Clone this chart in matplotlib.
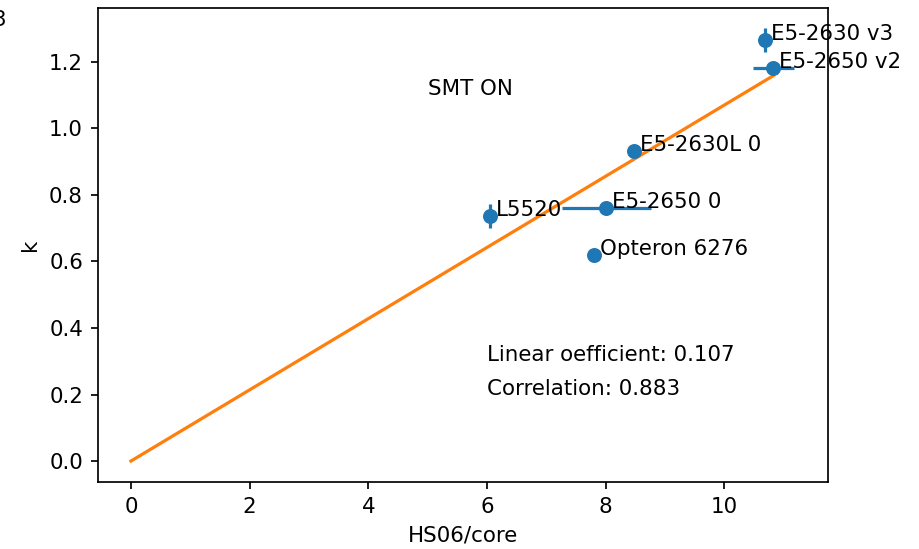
import matplotlib
matplotlib.use('Agg')
import matplotlib.pyplot as plt
import numpy as np

# CPU models, HS06 per core vs k
names = ['L5520', 'E5-2650 0', 'Opteron 6276', 'E5-2630L 0', 'E5-2630 v3', 'E5-2650 v2']
hs06 = [6.05, 8.01, 7.81, 8.48, 10.69, 10.83]
k = [0.737, 0.761, 0.620, 0.932, 1.266, 1.182]
hs06_err = [0.0, 0.75, 0.0, 0.0, 0.0, 0.35]
k_err = [0.035, 0.0, 0.0, 0.0, 0.035, 0.0]

slope = 0.107
corr = 0.883

DPI = 154
fig = plt.figure(figsize=(919 / DPI, 549 / DPI), dpi=DPI)
ax = fig.add_axes([98 / 919, 67 / 549, 730 / 919, 474 / 549])

ax.errorbar(hs06, k, xerr=hs06_err, yerr=k_err, fmt='o')
xs = np.array([0, max(hs06)])
ax.plot(xs, slope * xs)

for n, xv, yv in zip(names, hs06, k):
    ax.text(xv + 0.1, yv, n)

ax.text(5, 1.1, 'SMT ON')
ax.text(6, 0.3, 'Linear oefficient: %.3f' % slope)
ax.text(6, 0.2, 'Correlation: %.3f' % corr)

ax.set_xlim(-0.556, 11.75)
ax.set_ylim(-0.063, 1.362)
ax.set_xlabel('HS06/core')
ax.set_ylabel('k')

# leftover from a neighbouring panel, cut by the crop
fig.text(-0.008, 0.952, '3')

fig.savefig('out.png', dpi=DPI)
